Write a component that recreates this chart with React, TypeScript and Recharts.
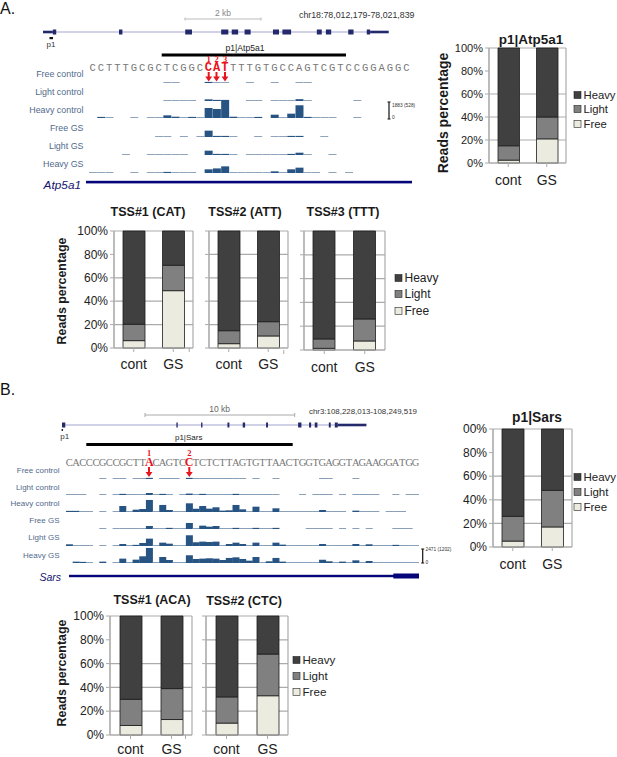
import { Bar, BarChart, CartesianGrid, Cell, Line, LineChart, XAxis, YAxis } from "recharts";

const _ = null;
const F = 100; // thin coverage line in panel A
const G = 170; // thin coverage line in panel B

const groups = ["cont", "GS"];
const seriesNames = ["Heavy", "Light", "Free"];
const ticksPct = [0, 20, 40, 60, 80, 100];

// stacked read percentages: [cont, GS]
const p1AtpFree = [2.5, 21];
const p1AtpLight = [12.5, 19];
const tss1AtpFree = [6.3, 49];
const tss1AtpLight = [14, 21.7];
const tss2AtpFree = [3.7, 10.3];
const tss2AtpLight = [11.1, 12.2];
const tss3AtpFree = [1.4, 7.6];
const tss3AtpLight = [7.9, 18.5];
const p1SarsFree = [5, 17];
const p1SarsLight = [21, 31];
const tss1SarsFree = [8, 13];
const tss1SarsLight = [22, 26];
const tss2SarsFree = [10, 33];
const tss2SarsLight = [22, 35];

const seqA = "CCTTTGCGCTCGGCCATTTTGTGCCAGTCGTCCGGAGGC";
const seqB = "CACCCGCCGCTTACAGTCCTCTCTTAGTGTTAACTGGTGAGGTAGAAGGATGG";
const trackNames = ["Free control", "Light control", "Heavy control", "Free GS", "Light GS", "Heavy GS"];

// reads per nucleotide, null where there is no coverage
const atpFreeControl = [_, _, _, _, _, _, _, _, _, F, F, _, _, _, 120, F, F, _, _, F, _, _, F, _, _, F, F];
const atpLightControl = [_, _, _, _, _, _, _, _, _, F, F, F, F, _, 180, 120, 120, _, _, F, F, _, F, F, F, 200, F, _, _, _, _, _, F];
const atpHeavyControl = [_, 120, F, _, _, F, _, F, F, 290, 140, F, 120, F, 1085, 980, 1880, 140, F, F, 120, _, 360, F, 470, 1380, 120, F, F, F, _, _, F];
const atpFreeGs = [_, _, _, _, _, _, _, _, F, F, _, F, _, F, 690, 120, 120, F, _, _, F, _, F, F, 120, 120, _, _, F];
const atpLightGs = [_, _, _, _, F, _, _, F, F, F, F, F, _, _, 470, 120, 120, F, _, F, F, F, F, F, 120, 250, F, _, _, F];
const atpHeavyGs = [F, F, F, _, _, F, _, F, F, 120, F, F, F, _, 400, 500, 720, F, F, F, F, F, 180, F, 400, 580, F, F, _, F, _, F];

const sarsFreeControl = [_, _, _, _, _, G, _, G, G, _, G, G, 200, _, G, G, G, _, 200, G, G, G, G, G, G, G, G, _, G, _, _, G, _, _, _, _, _, _, G, G, _, _, _, G];
const sarsLightControl = [G, G, G, _, _, G, _, G, 200, G, G, G, 350, G, 200, G, _, G, 250, G, 200, G, G, G, G, 200, G, G, G, G, G, G, _, _, _, G, _, G, G, G, _, G, _, G, G, G, G, _, _, G, _, G, G];
const sarsHeavyControl = [200, 200, G, G, _, G, _, G, 1060, G, 410, 530, 2120, G, 1240, 350, G, G, 1530, 590, 1060, 590, 830, 240, 300, 1240, 470, G, 940, G, G, 650, G, G, G, G, G, G, 350, G, G, G, _, 240, G, G, G, _, G, G, G];
const sarsFreeGs = [_, _, _, _, _, G, _, G, G, G, G, G, 530, G, G, 200, G, G, 1060, G, 590, 410, 530, G, G, 200, G, G, 200, G, G, 200, _, _, _, _, G, G, G, G, _, G, _, G, _, G, _, _, _, G, G, G];
const sarsLightGs = [300, G, G, G, _, G, _, G, 350, G, 200, 530, 1300, G, 590, 410, G, G, 1890, 650, 770, 710, 770, G, 350, 590, 350, G, 590, G, G, 590, 240, G, G, G, G, G, 350, G, G, G, G, 350, G, 300, G, G, G, 200, G, G, G];
const sarsHeavyGs = [_, 240, 200, G, _, 240, _, G, 770, G, 590, 1180, 2650, G, 1060, 530, G, G, 1360, 710, 770, 830, 770, 530, 890, 1000, 710, 410, 1060, G, 300, 890, 240, G, G, G, G, G, 590, 300, G, 240, G, 470, G, 350, G, G, G, G, G, G, G];

// exon positions in kb from the start of each gene model
const atpLengthKb = 9.14;
const atpExons = [[0.26, 0.35], [2.01, 2.1], [3.76, 3.94], [4.71, 4.9], [4.99, 5.16], [5.33, 5.49], [6.08, 6.24], [6.33, 6.56], [7.24, 7.37], [7.48, 7.62], [8.07, 8.21], [8.56, 8.65]];
const atpUtrs = [[0, 0.26], [8.65, 9.14]];
const sarsLengthKb = 20.33;
const sarsExons = [[0, 0.22], [7.64, 7.73], [9.29, 9.38], [11.05, 11.18], [12.07, 12.23], [13.63, 13.76], [15.77, 15.99], [16.5, 16.64], [16.88, 17.06], [17.82, 17.95], [18.22, 18.42]];
const sarsUtrs = [[18.42, 20.33]];

const FONT = "'Liberation Sans', Arial, sans-serif";
const GRID = "#ababab";
const TRACK_BLUE = "#275482";
const TRACK_LINE = "#869db6";
const fills: Record<string, string> = { Heavy: "#404040", Light: "#808080", Free: "#ecebdf" };

function tableOf(free: number[], light: number[]) {
  return groups.map((g, i) => ({
    group: g,
    Free: free[i],
    Light: light[i],
    Heavy: 100 - free[i] - light[i],
  }));
}

interface PanelProps {
  free: number[];
  light: number[];
  left: number;
  top: number;
  w: number;
  h: number;
  labelDrop: number;
  tickFont?: number;
  barSize?: number;
  showTicks?: boolean;
  clipTop?: boolean;
}

function StackedPanel({ free, light, left, top, w, h, labelDrop, tickFont = 12, barSize = 22, showTicks = true, clipTop }: PanelProps) {
  const yW = 50;
  const mTop = 8;
  const band = w / 2;
  const xTick = ({ x, y, payload }: any) => (
    <g>
      <line x1={x - band} x2={x - band} y1={y - 8} y2={y - 4} stroke={GRID} />
      <line x1={x + band} x2={x + band} y1={y - 8} y2={y - 4} stroke={GRID} />
      <text x={x} y={y + labelDrop - 8} textAnchor="middle" fontSize={14} fontFamily={FONT} fill="#222">
        {payload.value}
      </text>
    </g>
  );
  return (
    <div style={{ position: "absolute", left: left - yW, top: top - mTop }}>
      <BarChart
        width={yW + w + 6}
        height={mTop + h + 34}
        data={tableOf(free, light)}
        margin={{ top: mTop, right: 6, bottom: 0, left: 0 }}
        barCategoryGap={0}
      >
        <CartesianGrid stroke={GRID} strokeWidth={1.2} verticalPoints={[yW, yW + w]} />
        <XAxis dataKey="group" axisLine={{ stroke: GRID }} tickLine={false} tick={xTick} height={34} interval={0} />
        <YAxis
          type="number"
          domain={[0, 100]}
          ticks={ticksPct}
          width={yW}
          axisLine={{ stroke: GRID }}
          tickLine={{ stroke: GRID }}
          tickSize={4}
          tick={{ fontSize: tickFont, fontFamily: FONT, fill: "#222" }}
          tickFormatter={(v: number) => {
            if (!showTicks) return "";
            if (clipTop && v === 100) return "00%";
            return `${v}%`;
          }}
        />
        {["Free", "Light", "Heavy"].map((s) => (
          <Bar
            key={s}
            dataKey={s}
            stackId="reads"
            fill={fills[s]}
            stroke="#1c1c1c"
            strokeWidth={0.8}
            barSize={barSize}
            isAnimationActive={false}
          />
        ))}
      </BarChart>
    </div>
  );
}

function Track({ values, left, baseline, pitch, bins, maxReads, thin }: any) {
  const data = Array.from({ length: bins }, (_x, i) => ({ bin: i, reads: values[i] ?? null }));
  return (
    <div style={{ position: "absolute", left, top: baseline - 20 }}>
      <BarChart width={pitch * bins} height={20} data={data} margin={{ top: 0, right: 0, bottom: 0, left: 0 }} barCategoryGap={0} barGap={0}>
        <XAxis dataKey="bin" hide />
        <YAxis hide domain={[0, maxReads]} />
        <Bar dataKey="reads" fill={TRACK_BLUE} isAnimationActive={false}>
          {data.map((d) => (
            <Cell key={d.bin} fill={d.reads !== null && d.reads <= thin ? TRACK_LINE : TRACK_BLUE} />
          ))}
        </Bar>
      </BarChart>
    </div>
  );
}

function GeneModel({ exons, utrs, length, left, width, y }: any) {
  const seg = (r: number[]) => [{ x: r[0], y: 0 }, { x: r[1], y: 0 }];
  return (
    <div style={{ position: "absolute", left, top: y - 6 }}>
      <LineChart width={width} height={12} margin={{ top: 0, right: 0, bottom: 0, left: 0 }}>
        <XAxis type="number" dataKey="x" domain={[0, length]} hide />
        <YAxis type="number" dataKey="y" domain={[-1, 1]} hide />
        <Line data={seg([0, length])} dataKey="y" stroke="#a3a5d2" strokeWidth={1.2} dot={false} isAnimationActive={false} />
        {utrs.map((r: number[], i: number) => (
          <Line key={"u" + i} data={seg(r)} dataKey="y" stroke="#23296b" strokeWidth={2.6} dot={false} isAnimationActive={false} />
        ))}
        {exons.map((r: number[], i: number) => (
          <Line key={"e" + i} data={seg(r)} dataKey="y" stroke="#23296b" strokeWidth={5} dot={false} isAnimationActive={false} />
        ))}
      </LineChart>
    </div>
  );
}

function Sequence({ seq, x0, pitch, y, red, family, size }: any) {
  return (
    <g fontFamily={family} fontSize={size}>
      {seq.split("").map((c: string, i: number) => (
        <text
          key={i}
          x={x0 + (i + 0.5) * pitch}
          y={y}
          textAnchor="middle"
          fill={red.includes(i) ? "#e8141c" : "#777"}
          fontWeight={red.includes(i) ? 700 : 400}
          fontSize={red.includes(i) ? size + 1.5 : size}
        >
          {c}
        </text>
      ))}
    </g>
  );
}

function Arrow({ x, y1, y2, n, ny }: any) {
  return (
    <g fill="#e8141c">
      <text x={x} y={ny} textAnchor="middle" fontSize={8.5} fontWeight={700} fontFamily="'Liberation Serif', serif">{n}</text>
      <line x1={x} x2={x} y1={y1} y2={y2 - 4} stroke="#e8141c" strokeWidth={2} />
      <path d={`M${x - 3.4} ${y2 - 5}L${x + 3.4} ${y2 - 5}L${x} ${y2}Z`} />
    </g>
  );
}

function SeriesLegend({ x, ys, size }: any) {
  return (
    <g fontFamily={FONT} fontSize={size} fill="#222">
      {seriesNames.map((s, i) => (
        <g key={s}>
          <rect x={x} y={ys[i] - 3.5} width={7} height={7} fill={fills[s]} stroke="#222" strokeWidth={0.6} />
          <text x={x + 9.5} y={ys[i] + size * 0.36}>{s}</text>
        </g>
      ))}
    </g>
  );
}

function Title({ x, y, size, children }: any) {
  return (
    <text x={x} y={y} textAnchor="middle" dominantBaseline="central" fontFamily={FONT} fontWeight={700} fontSize={size} fill="#1a1a1a">
      {children}
    </text>
  );
}

function YLabel({ x, y, size }: any) {
  return (
    <text transform={`translate(${x} ${y}) rotate(-90)`} textAnchor="middle" dominantBaseline="central" fontFamily={FONT} fontWeight={700} fontSize={size} fill="#1a1a1a">
      Reads percentage
    </text>
  );
}

function TrackLabels({ right, ys, size }: any) {
  return (
    <g fontFamily={FONT} fontSize={size} fill="#4f6a8c">
      {trackNames.map((t, i) => (
        <text key={t} x={right} y={ys[i]} textAnchor="end" dominantBaseline="central">{t}</text>
      ))}
    </g>
  );
}

function Small({ x, y, size, anchor = "start", color = "#333", children }: any) {
  return (
    <text x={x} y={y} textAnchor={anchor} dominantBaseline="central" fontFamily={FONT} fontSize={size} fill={color}>
      {children}
    </text>
  );
}

function Overlay() {
  return (
    <svg width={617} height={757} style={{ position: "absolute", left: 0, top: 0, pointerEvents: "none" }}>
      {/* panel A */}
      <Small x={0} y={8} size={16} color="#111">A.</Small>
      <Small x={223} y={12.5} size={8.5} anchor="middle" color="#888">2 kb</Small>
      <path d="M185 19H261M185 17.5V20.5M261 17.5V20.5" stroke="#bbb" fill="none" />
      <Small x={299} y={15} size={8.8}>chr18:78,012,179-78,021,839</Small>
      <rect x={49.5} y={37} width={3.5} height={2.2} fill="#111" />
      <Small x={51} y={44.5} size={8} anchor="middle">p1</Small>
      <Small x={245} y={47.5} size={8.6} anchor="middle" color="#222">p1|Atp5a1</Small>
      <rect x={161.7} y={53.5} width={184.3} height={3} fill="#000" />
      <Sequence seq={seqA} x0={88.5} pitch={8.26} y={71} red={[14, 15, 16]} family="'Liberation Mono', monospace" size={10.5} />
      <Arrow x={208.7} y1={72} y2={81.5} n="1" ny={62} />
      <Arrow x={216.5} y1={72} y2={81.5} n="2" ny={62} />
      <Arrow x={225} y1={72} y2={81.5} n="3" ny={62} />
      <TrackLabels right={83.5} ys={[73.5, 92, 110, 127.5, 146, 164]} size={8.9} />
      <path d="M389 102V119M387.5 102H390.5M387.5 119H390.5" stroke="#111" strokeWidth={1.2} fill="none" />
      <Small x={392} y={105} size={4.8}>1883 (528)</Small>
      <Small x={392} y={117} size={4.8}>0</Small>
      <rect x={86} y={180.8} width={326} height={2.6} fill="#05057a" />
      <text x={81} y={185} fontFamily={FONT} fontStyle="italic" fontSize={11.8} textAnchor="end" dominantBaseline="central" fill="#14146e">Atp5a1</text>
      <Title x={531} y={39} size={13.5}>p1|Atp5a1</Title>
      <YLabel x={443} y={113} size={14} />
      <SeriesLegend x={574} ys={[95, 109, 124]} size={11.3} />
      <Title x={148} y={212} size={12.5}>TSS#1 (CAT)</Title>
      <Title x={245} y={212} size={12.5}>TSS#2 (ATT)</Title>
      <Title x={343} y={212} size={12.5}>TSS#3 (TTT)</Title>
      <YLabel x={62} y={291} size={12.4} />
      <SeriesLegend x={395} ys={[278, 294, 311]} size={12} />
      {/* panel B */}
      <Small x={0} y={389} size={16} color="#111">B.</Small>
      <Small x={219.7} y={409} size={8.5} anchor="middle" color="#666">10 kb</Small>
      <path d="M145 415H294.7M145 413V417M294.7 413V417" stroke="#aaa" fill="none" />
      <Small x={309} y={411} size={7.9}>chr3:108,228,013-108,249,519</Small>
      <circle cx={62.3} cy={430} r={0.9} fill="#111" />
      <Small x={64.7} y={436} size={8} anchor="middle">p1</Small>
      <Small x={188.7} y={437.7} size={8} anchor="middle" color="#222">p1|Sars</Small>
      <rect x={86.3} y={443} width={206.4} height={3} fill="#000" />
      <Sequence seq={seqB} x0={66} pitch={6.66} y={466} red={[12, 18]} family="'Liberation Serif', serif" size={10.5} />
      <Arrow x={149} y1={467} y2={477} n="1" ny={456} />
      <Arrow x={189.3} y1={467} y2={477} n="2" ny={456} />
      <TrackLabels right={59.5} ys={[470.7, 487, 503.7, 520.5, 537, 555]} size={8} />
      <path d="M422.7 549V563M421.2 549H424.2M421.2 563H424.2" stroke="#111" strokeWidth={1.2} fill="none" />
      <Small x={425.5} y={549.5} size={4.8}>2471 (1202)</Small>
      <Small x={425.5} y={562} size={4.8}>0</Small>
      <rect x={69} y={574.8} width={325} height={2.4} fill="#05057a" />
      <rect x={393.3} y={573.5} width={25.7} height={5} fill="#05057a" />
      <text x={61} y={577} fontFamily={FONT} fontStyle="italic" fontSize={10.5} textAnchor="end" dominantBaseline="central" fill="#14146e">Sars</text>
      <Title x={537} y={417} size={13.8}>p1|Sars</Title>
      <SeriesLegend x={574} ys={[477, 492, 507]} size={11.5} />
      <Title x={152} y={600} size={12.5}>TSS#1 (ACA)</Title>
      <Title x={244} y={601} size={12.5}>TSS#2 (CTC)</Title>
      <YLabel x={62} y={673} size={12.4} />
      <SeriesLegend x={293} ys={[660, 676, 692]} size={11.6} />
    </svg>
  );
}

const atpTracks = [atpFreeControl, atpLightControl, atpHeavyControl, atpFreeGs, atpLightGs, atpHeavyGs];
const sarsTracks = [sarsFreeControl, sarsLightControl, sarsHeavyControl, sarsFreeGs, sarsLightGs, sarsHeavyGs];
const atpBaselines = [83, 101, 118, 137, 155, 173];
const sarsBaselines = [479, 495, 512, 529, 546, 563];

export default function App() {
  return (
    <div style={{ position: "absolute", left: 0, top: 0, width: 617, height: 757, background: "#fff", overflow: "hidden", fontFamily: FONT }}>
      <GeneModel exons={atpExons} utrs={atpUtrs} length={atpLengthKb} left={43.3} width={345.7} y={31.7} />
      {atpTracks.map((t, i) => (
        <Track key={i} values={t} left={88.5} baseline={atpBaselines[i]} pitch={8.26} bins={seqA.length} maxReads={2170} thin={F} />
      ))}
      <StackedPanel free={p1AtpFree} light={p1AtpLight} left={489} top={48} w={77} h={115} labelDrop={22} tickFont={11} barSize={21.5} />
      <StackedPanel free={tss1AtpFree} light={tss1AtpLight} left={114} top={231} w={79} h={117} labelDrop={21} />
      <StackedPanel free={tss2AtpFree} light={tss2AtpLight} left={209} top={231} w={79} h={117} labelDrop={21} showTicks={false} />
      <StackedPanel free={tss3AtpFree} light={tss3AtpLight} left={304} top={231} w={81} h={119} labelDrop={22} showTicks={false} />

      <GeneModel exons={sarsExons} utrs={sarsUtrs} length={sarsLengthKb} left={62.3} width={304.4} y={424.7} />
      {sarsTracks.map((t, i) => (
        <Track key={i} values={t} left={66} baseline={sarsBaselines[i]} pitch={6.66} bins={seqB.length} maxReads={3520} thin={G} />
      ))}
      <StackedPanel free={p1SarsFree} light={p1SarsLight} left={493} top={429} w={79} h={118} labelDrop={22} clipTop />
      <StackedPanel free={tss1SarsFree} light={tss1SarsLight} left={110} top={616} w={82} h={119} labelDrop={19} />
      <StackedPanel free={tss2SarsFree} light={tss2SarsLight} left={206} top={616} w={82} h={119} labelDrop={19} showTicks={false} />
      <Overlay />
    </div>
  );
}
